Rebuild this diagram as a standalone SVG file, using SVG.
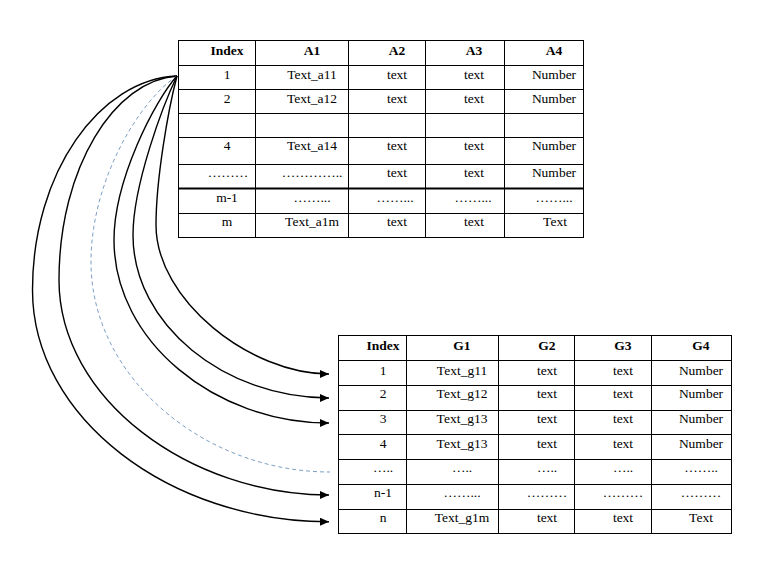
<svg xmlns="http://www.w3.org/2000/svg" width="767" height="568" viewBox="0 0 767 568">
  <style>
    .grid { stroke: #000; stroke-width: 1; fill: none; }
    .thick { stroke: #000; stroke-width: 2; }
    text { font-family: "Liberation Serif", "Times New Roman", serif; font-size: 13.5px; fill: #000; text-anchor: middle; }
    .h { font-weight: bold; }
    .conn { fill: none; stroke: #000; stroke-width: 1.4; marker-end: url(#arrow); }
    .dash { fill: none; stroke: #7d9fc6; stroke-width: 1; stroke-dasharray: 4 3; }
  </style>
  <defs>
    <marker id="arrow" markerUnits="userSpaceOnUse" markerWidth="9" markerHeight="8" refX="9" refY="4" orient="auto">
      <path d="M0,0 L9,4 L0,8 z" fill="#000"/>
    </marker>
  </defs>
  <rect width="767" height="568" fill="#fff"/>

  <g id="table-a">
    <rect class="grid" x="178.5" y="40.5" width="405" height="197"/>
    <path class="grid" d="M255.5,40.5V237.5 M348.5,40.5V237.5 M425.5,40.5V237.5 M504.5,40.5V237.5 M178.5,65.5H583.5 M178.5,89.5H583.5 M178.5,113.5H583.5 M178.5,137.5H583.5 M178.5,164.5H583.5 M178.5,213.5H583.5"/>
    <path class="thick" d="M178.5,188.5H583.5"/>
    <text class="h" x="227" y="55">Index</text>
    <text class="h" x="312" y="55">A1</text>
    <text class="h" x="397" y="55">A2</text>
    <text class="h" x="474" y="55">A3</text>
    <text class="h" x="554" y="55">A4</text>
    <text x="227" y="78.5">1</text>
    <text x="312" y="78.5">Text_a11</text>
    <text x="397" y="78.5">text</text>
    <text x="474" y="78.5">text</text>
    <text x="554" y="78.5">Number</text>
    <text x="227" y="102.5">2</text>
    <text x="312" y="102.5">Text_a12</text>
    <text x="397" y="102.5">text</text>
    <text x="474" y="102.5">text</text>
    <text x="554" y="102.5">Number</text>
    <text x="227" y="149.5">4</text>
    <text x="312" y="149.5">Text_a14</text>
    <text x="397" y="149.5">text</text>
    <text x="474" y="149.5">text</text>
    <text x="554" y="149.5">Number</text>
    <text x="228" y="176.5">………</text>
    <text x="312" y="176.5">…………..</text>
    <text x="397" y="176.5">text</text>
    <text x="474" y="176.5">text</text>
    <text x="554" y="176.5">Number</text>
    <text x="227" y="202">m-1</text>
    <text x="312" y="202">……...</text>
    <text x="395" y="202">……...</text>
    <text x="473" y="202">……...</text>
    <text x="554" y="202">……...</text>
    <text x="227" y="226">m</text>
    <text x="312" y="226">Text_a1m</text>
    <text x="397" y="226">text</text>
    <text x="474" y="226">text</text>
    <text x="555" y="226">Text</text>
  </g>

  <g id="table-g">
    <rect class="grid" x="338.5" y="335.5" width="393" height="198"/>
    <path class="grid" d="M406.5,335.5V533.5 M498.5,335.5V533.5 M574.5,335.5V533.5 M651.5,335.5V533.5 M338.5,360.5H731.5 M338.5,385.5H731.5 M338.5,410.5H731.5 M338.5,434.5H731.5 M338.5,459.5H731.5 M338.5,484.5H731.5 M338.5,509.5H731.5"/>
    <text class="h" x="383" y="349.5">Index</text>
    <text class="h" x="462" y="349.5">G1</text>
    <text class="h" x="547" y="349.5">G2</text>
    <text class="h" x="623" y="349.5">G3</text>
    <text class="h" x="701" y="349.5">G4</text>
    <text x="383" y="374.5">1</text>
    <text x="462" y="374.5">Text_g11</text>
    <text x="547" y="374.5">text</text>
    <text x="623" y="374.5">text</text>
    <text x="701" y="374.5">Number</text>
    <text x="383" y="398">2</text>
    <text x="462" y="398">Text_g12</text>
    <text x="547" y="398">text</text>
    <text x="623" y="398">text</text>
    <text x="701" y="398">Number</text>
    <text x="383" y="423">3</text>
    <text x="462" y="423">Text_g13</text>
    <text x="547" y="423">text</text>
    <text x="623" y="423">text</text>
    <text x="701" y="423">Number</text>
    <text x="383" y="448">4</text>
    <text x="462" y="448">Text_g13</text>
    <text x="547" y="448">text</text>
    <text x="623" y="448">text</text>
    <text x="701" y="448">Number</text>
    <text x="383" y="471.5">…..</text>
    <text x="462" y="471.5">…..</text>
    <text x="547" y="471.5">…..</text>
    <text x="623" y="471.5">…..</text>
    <text x="701" y="471.5">……..</text>
    <text x="383" y="496.5">n-1</text>
    <text x="462" y="496.5">……...</text>
    <text x="547" y="496.5">………</text>
    <text x="623" y="496.5">………</text>
    <text x="701" y="496.5">………</text>
    <text x="383" y="521.5">n</text>
    <text x="462" y="521.5">Text_g1m</text>
    <text x="547" y="521.5">text</text>
    <text x="623" y="521.5">text</text>
    <text x="701" y="521.5">Text</text>
  </g>

  <g id="connectors">
    <path class="conn" d="M177,76 C100,79 32.5,172 32.5,290 C32.5,418 170,521.7 329,521.7"/>
    <path class="conn" d="M177,76 C115,80 59,167 59,280 C59,399 190,495 329,495"/>
    <path class="dash" d="M177,76 C140,100 91,180 91,262 C91,378 205,472 330,472"/>
    <path class="conn" d="M177,76 C155,100 114,180 114,240 C114,341 215,423 329,423"/>
    <path class="conn" d="M177,76 C163,105 133,185 133,235 C133,325 225,398 329,398"/>
    <path class="conn" d="M177,76 C168,110 156,180 156,225 C156,300 250,374 329,374"/>
  </g>
</svg>
